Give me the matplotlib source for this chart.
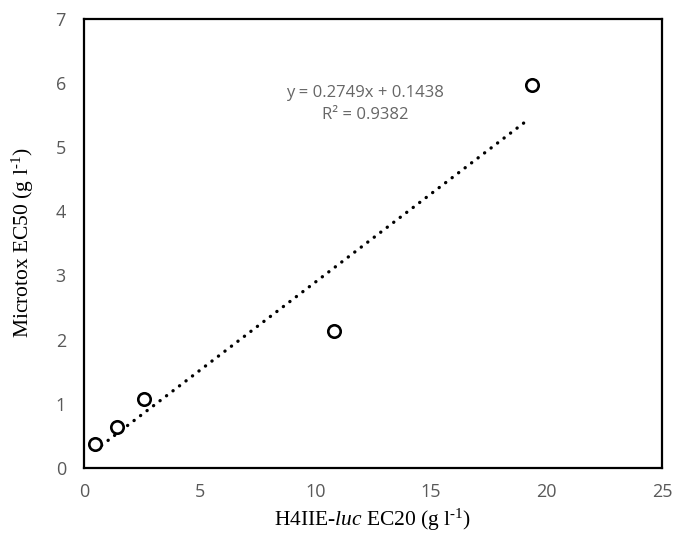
import matplotlib
matplotlib.use("Agg")
import matplotlib.pyplot as plt
import numpy as np

plt.rcParams['mathtext.fontset'] = 'custom'
plt.rcParams['mathtext.rm'] = 'Liberation Serif'
plt.rcParams['mathtext.it'] = 'Liberation Serif:italic'

# Data
h4iie_ec20 = [0.48, 1.41, 2.61, 10.81, 19.38]
microtox_ec50 = [0.37, 0.64, 1.08, 2.13, 5.97]
slope = 0.2749
intercept = 0.1438
x_ticks = [0, 5, 10, 15, 20, 25]
y_ticks = [0, 1, 2, 3, 4, 5, 6, 7]

fig = plt.figure(figsize=(6.73, 5.35), dpi=100)
ax = fig.add_axes([84/673, 67/535, 578/673, 449.5/535])

xs = np.array([min(h4iie_ec20), max(h4iie_ec20) - 0.1])
ax.plot(xs, slope * xs + intercept, linestyle=(0, (0.05, 2.4)), color='black',
        linewidth=2.4, dash_capstyle='round')
ax.scatter(h4iie_ec20, microtox_ec50, s=80, facecolors='white',
           edgecolors='black', linewidths=1.9, zorder=3)

ax.set_xlim(0, 25)
ax.set_ylim(0, 7)
ax.set_xticks(x_ticks)
ax.set_yticks(y_ticks)
ax.tick_params(length=0, labelsize=13, labelcolor='#595959')
ax.tick_params(axis='x', pad=11)
ax.tick_params(axis='y', pad=13)
for lab in ax.get_xticklabels() + ax.get_yticklabels():
    lab.set_family('Open Sans')
for sp in ax.spines.values():
    sp.set_linewidth(1.6)
    sp.set_color('black')

ax.set_xlabel(r'H4IIE-$\it{luc}$ EC20 (g l$^{\text{-1}}$)', fontsize=15.5,
              family='Liberation Serif', labelpad=4)
ax.set_ylabel(r'Microtox EC50 (g l$^{\text{-1}}$)', fontsize=15.5,
              family='Liberation Serif', labelpad=14)

ax.text(365, 535 - 104, 'y = 0.2749x + 0.1438\nR² = 0.9382', transform=None,
        ha='center', va='center', fontsize=12, color='#666666',
        family='Open Sans', linespacing=1.45)

fig.savefig('out.png', dpi=100)
